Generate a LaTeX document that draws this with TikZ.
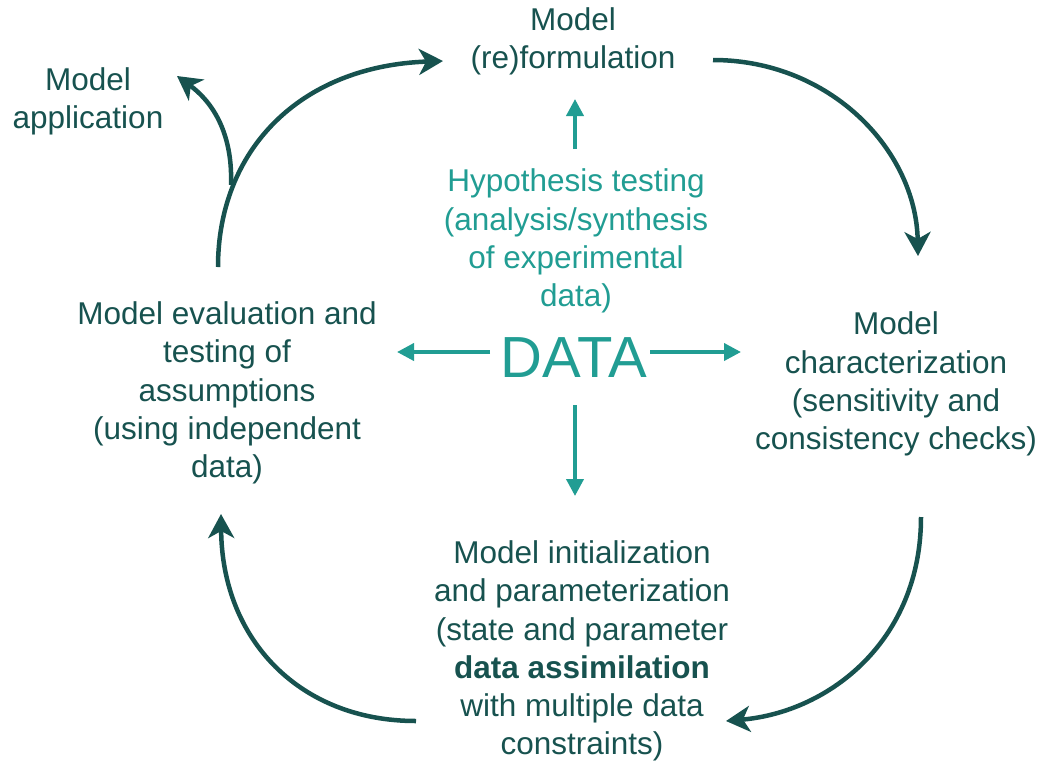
\documentclass[tikz,border=0pt]{standalone}
\usepackage{fontspec}
\setmainfont{Liberation Sans}
\usetikzlibrary{arrows.meta}
\definecolor{darkteal}{HTML}{17524F}
\definecolor{lightteal}{HTML}{219D93}
\begin{document}
\begin{tikzpicture}[x=1pt,y=-1pt,
  lbl/.style={align=center,inner sep=0pt,text=darkteal,
    font=\fontsize{31.5}{38.3}\selectfont},
  hyp/.style={lbl,text=lightteal},
  cycle/.style={draw=darkteal,line width=4.5pt,
    -{Stealth[length=24pt,width=26pt,inset=7pt]}},
  datarrow/.style={draw=lightteal,line width=3.8pt,
    -{Triangle[length=17pt,width=17pt]}}]
\useasboundingbox (0,0) rectangle (1041,764);

% labels
\node[lbl] (form) at (573,41) {Model\\(re)formulation};
\node[lbl] (appl) at (88,101) {Model\\application};
\node[hyp] (hyp) at (576,241) {Hypothesis testing\\(analysis/synthesis\\of experimental\\data)};
\node[lbl] (eval) at (227,393) {Model evaluation and\\testing of\\assumptions\\(using independent\\data)};
\node[lbl] (char) at (896,384) {Model\\characterization\\(sensitivity and\\consistency checks)};
\node[lbl] (init) at (582,651) {Model initialization\\and parameterization\\(state and parameter\\\textbf{data assimilation}\\with multiple data\\constraints)};
\node[inner sep=0pt,text=lightteal,font=\fontsize{58}{60}\selectfont] (data) at (574,358) {DATA};

% connector end points
\coordinate (upS) at (575,149);
\coordinate (upE) at (575,99);
\coordinate (lfS) at (490,352);
\coordinate (lfE) at (397,352);
\coordinate (rtS) at (650,352);
\coordinate (rtE) at (741,352);
\coordinate (dnS) at (575,405);
\coordinate (dnE) at (575,496);

\coordinate (c1S) at (713,60);
\coordinate (c1E) at (918,256);
\coordinate (c2S) at (921,517);
\coordinate (c2E) at (726,721);
\coordinate (c3S) at (416,721);
\coordinate (c3E) at (221,514);
\coordinate (c4S) at (218,267);
\coordinate (c4E) at (443,61);
\coordinate (brS) at (231,185);
\coordinate (brE) at (177,76);

% data arrows
\draw[datarrow] (upS) -- (upE);
\draw[datarrow] (lfS) -- (lfE);
\draw[datarrow] (rtS) -- (rtE);
\draw[datarrow] (dnS) -- (dnE);

% modelling cycle
\draw[cycle] (c1S) .. controls (830,60) and (916,150) .. (c1E);
\draw[cycle] (c2S) .. controls (921,640) and (830,712) .. (c2E);
\draw[cycle] (c3S) .. controls (300,721) and (222,640) .. (c3E);
\draw[cycle] (c4S) .. controls (218,150) and (300,66) .. (c4E);
\draw[cycle] (brS) .. controls (233,130) and (210,100) .. (brE);
\end{tikzpicture}
\end{document}
